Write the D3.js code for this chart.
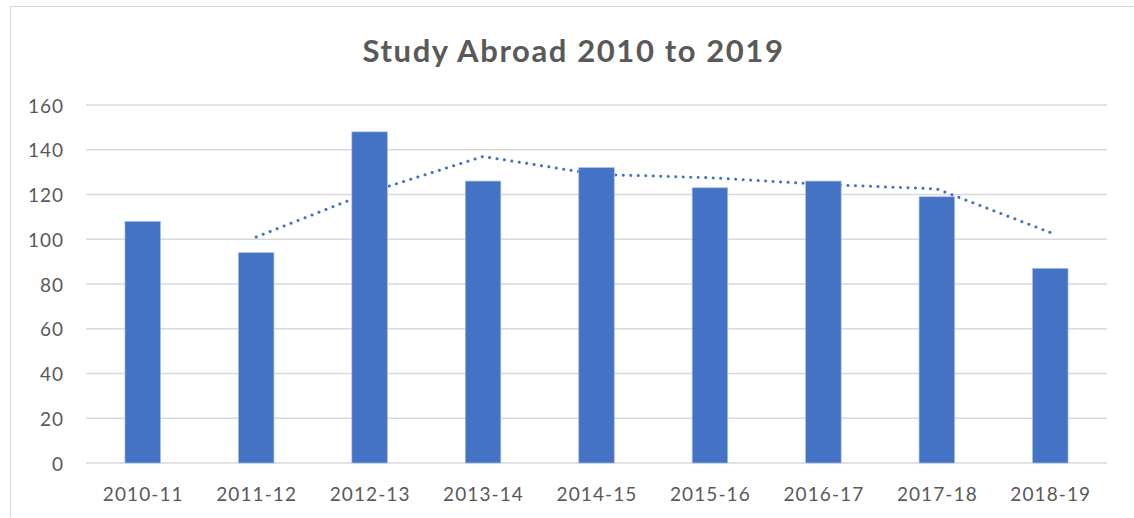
<!DOCTYPE html>
<html>
<head>
<meta charset="utf-8">
<script src="https://cdn.jsdelivr.net/npm/d3@7"></script>
<style>
  body { margin: 0; background: #fff; }
  text { font-family: Lato, "Open Sans", sans-serif; fill: #595959; }
</style>
</head>
<body>
<div id="chart"></div>
<script>
//Chart data
const years = ["2010-11", "2011-12", "2012-13", "2013-14", "2014-15", "2015-16", "2016-17", "2017-18", "2018-19"];
const students = [108, 94, 148, 126, 132, 123, 126, 119, 87];
//2 period moving average trendline, starts at the second year
const trendYears = ["2011-12", "2012-13", "2013-14", "2014-15", "2015-16", "2016-17", "2017-18", "2018-19"];
const trendValues = [101, 121, 137, 129, 127.5, 124.5, 122.5, 103];
const yTicks = [0, 20, 40, 60, 80, 100, 120, 140, 160];

const w = 1134;
const h = 518;
const svg = d3.select("#chart")
    .append("svg")
    .attr("width", w)
    .attr("height", h);

//Outer chart border
svg.append("rect")
    .attr("x", 10.5)
    .attr("y", 6.5)
    .attr("width", w + 10)
    .attr("height", h + 10)
    .attr("fill", "#fff")
    .attr("stroke", "#d9d9d9");

//Plot area
const plotLeft = 86, plotRight = 1107, plotTop = 105, plotBottom = 463;

const x = d3.scaleBand()
    .domain(years)
    .range([plotLeft, plotRight])
    .paddingInner(0.687)
    .paddingOuter(0.3435);

const y = d3.scaleLinear()
    .domain([0, 160])
    .range([plotBottom, plotTop]);

//Gridlines
svg.append("g")
    .selectAll("line")
    .data(yTicks)
    .join("line")
    .attr("x1", plotLeft)
    .attr("x2", plotRight)
    .attr("y1", d => y(d))
    .attr("y2", d => y(d))
    .attr("stroke", "#d9d9d9")
    .attr("stroke-width", 1.3);

//Y axis labels
svg.append("g")
    .selectAll("text")
    .data(yTicks)
    .join("text")
    .attr("x", 64)
    .attr("y", d => y(d) + 7.5)
    .attr("text-anchor", "end")
    .attr("font-size", 19)
    .attr("letter-spacing", 1)
    .text(d => d);

//X axis labels
svg.append("g")
    .selectAll("text")
    .data(years)
    .join("text")
    .attr("x", d => x(d) + x.bandwidth() / 2 + 0.5)
    .attr("y", 501)
    .attr("text-anchor", "middle")
    .attr("font-size", 19)
    .attr("letter-spacing", 1.1)
    .text(d => d);

//Trendline sits behind the bars
const line = d3.line()
    .x((d, i) => x(trendYears[i]) + x.bandwidth() / 2)
    .y(d => y(d));

svg.append("path")
    .datum(trendValues)
    .attr("d", line)
    .attr("fill", "none")
    .attr("stroke", "#4472c4")
    .attr("stroke-width", 3)
    .attr("stroke-linecap", "round")
    .attr("stroke-dasharray", "0.1 7.4");

//Bars
svg.append("g")
    .selectAll("rect")
    .data(students)
    .join("rect")
    .attr("x", (d, i) => x(years[i]))
    .attr("y", d => y(d))
    .attr("width", x.bandwidth())
    .attr("height", d => y(0) - y(d))
    .attr("fill", "#4472c4")
    .attr("stroke", "#a9bde4")
    .attr("stroke-width", 0.7);

//Title
svg.append("text")
    .attr("x", 573.5)
    .attr("y", 62)
    .attr("text-anchor", "middle")
    .attr("font-size", 31)
    .attr("font-weight", "bold")
    .attr("letter-spacing", 1.6)
    .text("Study Abroad 2010 to 2019");
</script>
</body>
</html>
